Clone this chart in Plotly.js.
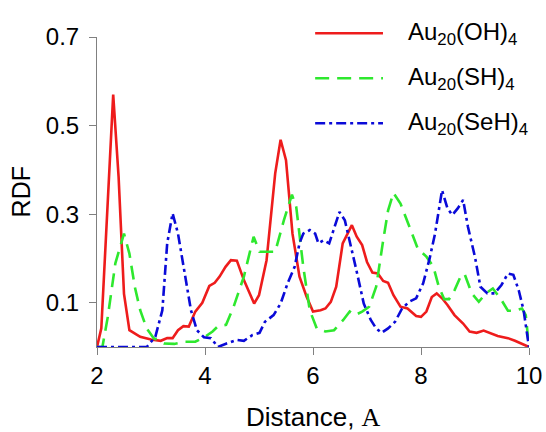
<!DOCTYPE html>
<html>
<head>
<meta charset="utf-8">
<script src="https://cdn.plot.ly/plotly-3.0.1.min.js"></script>
<style>html,body{margin:0;padding:0;background:#fff;}#chart{width:546px;height:432px;}</style>
</head>
<body>
<div id="chart"></div>
<script>
// Au20(OH)4
const ohX = [2,2.08,2.3,2.4,2.5,2.6,2.8,3.0,3.18,3.3,3.4,3.5,3.6,3.7,3.82,3.95,4.08,4.18,4.27,4.38,4.48,4.59,4.72,4.91,5.0,5.14,5.3,5.4,5.5,5.62,5.75,5.88,6.0,6.14,6.23,6.33,6.43,6.55,6.72,6.81,6.91,7.0,7.1,7.2,7.3,7.39,7.49,7.62,7.75,7.91,8.0,8.1,8.2,8.29,8.39,8.49,8.62,8.78,8.9,9.03,9.16,9.29,9.42,9.61,9.74,10];
const ohY = [0,0.042,0.57,0.384,0.12,0.038,0.023,0.017,0.014,0.02,0.02,0.038,0.047,0.046,0.08,0.1,0.138,0.145,0.159,0.181,0.196,0.195,0.151,0.098,0.117,0.196,0.392,0.468,0.422,0.256,0.159,0.114,0.08,0.083,0.087,0.102,0.136,0.234,0.275,0.249,0.23,0.192,0.168,0.166,0.149,0.145,0.117,0.091,0.087,0.07,0.068,0.08,0.113,0.121,0.11,0.095,0.072,0.053,0.035,0.032,0.037,0.031,0.025,0.02,0.014,0];
// Au20(SH)4
const shX = [2,2.1,2.2,2.34,2.5,2.6,2.7,2.8,2.92,3.05,3.24,3.43,3.63,3.82,4.0,4.14,4.24,4.39,4.53,4.72,4.9,5.01,5.17,5.3,5.46,5.61,5.69,5.82,5.94,6.07,6.23,6.39,6.56,6.68,6.78,6.91,7.04,7.17,7.3,7.39,7.49,7.62,7.81,7.94,8.1,8.23,8.33,8.43,8.52,8.62,8.75,8.81,8.94,9.07,9.2,9.33,9.49,9.61,9.74,9.87,9.94,10];
const shY = [0,0,0.068,0.189,0.256,0.211,0.136,0.083,0.042,0.02,0.008,0.007,0.012,0.012,0.023,0.035,0.047,0.05,0.091,0.159,0.249,0.215,0.215,0.215,0.286,0.344,0.316,0.181,0.083,0.042,0.035,0.038,0.061,0.08,0.072,0.08,0.091,0.136,0.241,0.308,0.348,0.324,0.264,0.222,0.204,0.181,0.136,0.108,0.108,0.128,0.164,0.164,0.121,0.102,0.121,0.132,0.106,0.082,0.082,0.087,0.072,0];
// Au20(SeH)4
const seX = [2,2.92,3.08,3.21,3.3,3.4,3.5,3.63,3.74,3.85,3.98,4.11,4.24,4.4,4.59,4.72,4.88,5.01,5.11,5.27,5.4,5.53,5.66,5.75,5.82,5.94,6.04,6.1,6.2,6.3,6.4,6.49,6.59,6.68,6.81,6.94,7.07,7.17,7.27,7.39,7.52,7.65,7.78,7.91,8.04,8.16,8.26,8.39,8.49,8.58,8.68,8.78,8.87,9.0,9.1,9.23,9.36,9.49,9.61,9.71,9.81,9.9,10];
const seY = [0,0,0.023,0.083,0.234,0.302,0.256,0.166,0.083,0.038,0.022,0.02,0,0.008,0.016,0.014,0.027,0.032,0.057,0.072,0.098,0.144,0.181,0.234,0.256,0.264,0.256,0.234,0.241,0.234,0.271,0.305,0.286,0.241,0.17,0.098,0.061,0.042,0.032,0.042,0.057,0.087,0.102,0.11,0.144,0.2,0.256,0.354,0.313,0.298,0.313,0.332,0.271,0.203,0.136,0.121,0.121,0.14,0.166,0.163,0.128,0.083,0];

const seriesNames = ['Au<sub>20</sub>(OH)<sub>4</sub>','Au<sub>20</sub>(SH)<sub>4</sub>','Au<sub>20</sub>(SeH)<sub>4</sub>'];
const colors = ['#ee1c1c','#2ee82e','#0a0ad8'];
const dashes = ['solid','14px,8px','10px,4px,3px,4px'];
const yTicks = [0.1,0.3,0.5,0.7];
const xTicks = [2,4,6,8,10];
const xTitle = 'Distance, <span style="font-family:Liberation Serif, Times New Roman, serif">A</span>';
const yTitle = 'RDF';

const xs=[ohX,shX,seX], ys=[ohY,shY,seY];
const traces = xs.map((x,i)=>({x:x,y:ys[i],type:'scatter',mode:'lines',name:seriesNames[i],
  line:{color:colors[i],width:2.6,dash:dashes[i]},showlegend:false,cliponaxis:false}));

const fam = 'Liberation Sans, Arial, sans-serif';
const tickFont = {family:fam,size:24,color:'#000'};
const xTitleFont = {family:fam,size:26,color:'#000'};
const yTitleFont = {family:fam,size:25,color:'#000'};
const legFont = {family:fam,size:24,color:'#000'};
const legY=[1.012,0.867,0.7216];
const shapes=[], annotations=[];
legY.forEach((y,i)=>{
  shapes.push({type:'line',xref:'paper',yref:'paper',x0:0.505,x1:0.662,y0:y,y1:y,line:{color:colors[i],width:2.6,dash:dashes[i]}});
  annotations.push({xref:'paper',yref:'paper',x:0.718,y:y,xanchor:'left',yanchor:'middle',showarrow:false,text:seriesNames[i],font:legFont,borderpad:0});
});
annotations.push({xref:'paper',yref:'paper',x:0.5,y:-0.2258,xanchor:'center',yanchor:'middle',showarrow:false,text:xTitle,font:xTitleFont,borderpad:0});
annotations.push({xref:'paper',yref:'paper',x:-0.175,y:0.5,xanchor:'center',yanchor:'middle',showarrow:false,text:yTitle,font:yTitleFont,textangle:-90,borderpad:0});

const layout = {
  width:546,height:432,
  margin:{l:96.5,r:17,t:37,b:85},
  paper_bgcolor:'#fff',plot_bgcolor:'#fff',
  showlegend:false,
  font:tickFont,
  xaxis:{range:[2,10],tickvals:xTicks,ticks:'outside',ticklen:7,tickcolor:'#808080',showline:true,linecolor:'#808080',linewidth:1,
    showgrid:false,zeroline:false,tickfont:tickFont},
  yaxis:{range:[0,0.7],tickvals:yTicks,ticks:'outside',ticklen:7,tickcolor:'#808080',showline:true,linecolor:'#808080',linewidth:1,
    showgrid:false,zeroline:false,tickfont:tickFont,ticklabelstandoff:5},
  shapes:shapes,annotations:annotations
};
Plotly.newPlot('chart',traces,layout,{staticPlot:true});
</script>
</body>
</html>
